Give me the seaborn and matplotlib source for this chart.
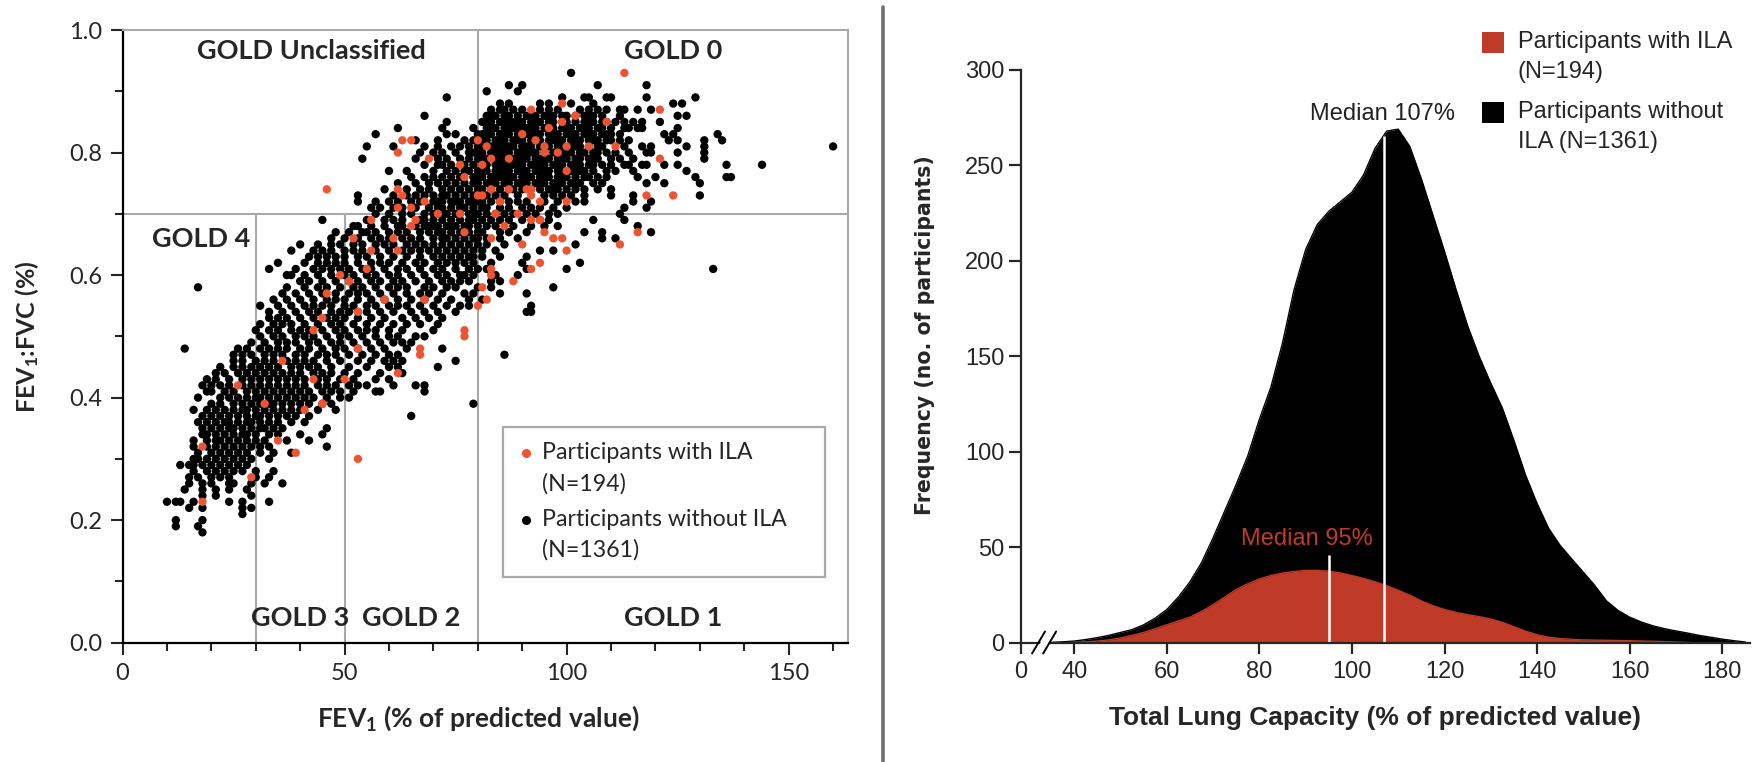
import numpy as np
import pandas as pd
import matplotlib
matplotlib.use("Agg")
import matplotlib.pyplot as plt
from matplotlib.patches import Rectangle, Polygon
from matplotlib.lines import Line2D
import seaborn as sns

# ---- left panel: FEV1 (% predicted) per FEV1:FVC row ----
no_ila_rows = {
    0.93: [101],
    0.91: [87, 90, 107, 118],
    0.90: [82, 89],
    0.89: [73, 99, 104, 105, 109, 110, 118, 129],
    0.88: [85, 87, 94, 96, 101, 106, 124, 126],
    0.87: [83, 85, 86, 88, 90, 94, 96, 98, 103, 105, 107, 109, 112, 113, 116, 119],
    0.86: [68, 82, 84, 86, 89, 91, 93, 95, 97, 100, 104, 106, 108, 112, 125, 127],
    0.85: [73, 81, 83, 85, 87, 88, 90, 92, 94, 96, 100, 104, 106, 108, 111, 113, 115, 117, 121],
    0.84: [62, 72, 79, 82, 84, 86, 88, 90, 91, 93, 95, 97, 99, 101, 103, 105, 107, 110, 113, 114, 116, 117, 125],
    0.83: [57, 73, 75, 80, 81, 83, 85, 87, 89, 91, 92, 94, 96, 98, 100, 102, 104, 106, 108, 110, 112, 122, 124, 134],
    0.82: [66, 71, 77, 79, 81, 84, 86, 88, 90, 92, 94, 96, 97, 99, 101, 103, 105, 107, 109, 112, 114, 123, 125, 131, 135],
    0.81: [55, 61, 68, 71, 74, 76, 78, 80, 83, 85, 86, 88, 90, 92, 94, 96, 98, 101, 103, 107, 108, 113, 117, 119, 127, 131, 160],
    0.80: [67, 70, 72, 75, 78, 79, 81, 84, 85, 87, 89, 91, 93, 97, 99, 101, 104, 106, 109, 111, 114, 118, 119, 125, 131],
    0.79: [54, 66, 71, 73, 76, 78, 80, 82, 84, 86, 88, 89, 91, 93, 94, 96, 98, 100, 102, 105, 107, 110, 112, 115, 131],
    0.78: [68, 71, 72, 74, 77, 79, 82, 84, 86, 87, 89, 90, 92, 94, 95, 97, 99, 101, 103, 106, 108, 110, 113, 114, 117, 118, 122, 125, 136, 144],
    0.77: [60, 64, 70, 73, 75, 77, 78, 80, 82, 84, 85, 87, 89, 91, 93, 95, 96, 98, 101, 103, 104, 106, 109, 111, 115, 127],
    0.76: [65, 68, 70, 72, 74, 76, 79, 81, 83, 85, 86, 88, 90, 92, 94, 96, 98, 100, 102, 105, 107, 109, 116, 120, 129, 136, 137],
    0.75: [62, 66, 69, 71, 73, 75, 77, 80, 82, 84, 87, 89, 91, 93, 95, 97, 99, 101, 103, 106, 108, 118, 122, 130],
    0.74: [59, 64, 67, 69, 72, 74, 76, 78, 81, 85, 88, 90, 94, 96, 98, 100, 102, 104, 107, 110],
    0.73: [53, 61, 64, 66, 68, 70, 72, 73, 75, 77, 79, 82, 84, 86, 89, 95, 97, 99, 101, 104, 110, 115, 130],
    0.72: [53, 57, 60, 62, 65, 67, 70, 71, 74, 76, 78, 80, 81, 83, 87, 89, 91, 95, 98, 102, 104, 115, 119],
    0.71: [56, 58, 61, 63, 66, 69, 71, 72, 74, 76, 77, 79, 81, 82, 85, 87, 90, 92, 94, 97, 100, 113, 118],
    0.70: [57, 60, 63, 65, 68, 70, 71, 73, 75, 78, 79, 80, 82, 86, 88, 91, 93, 96, 98, 112],
    0.69: [45, 55, 59, 61, 63, 67, 68, 70, 72, 74, 76, 78, 79, 81, 83, 85, 87, 90, 94, 96, 106, 113],
    0.68: [52, 53, 56, 59, 62, 63, 66, 68, 69, 71, 73, 75, 77, 80, 82, 84, 88, 92, 95, 98, 116],
    0.67: [48, 51, 54, 55, 57, 60, 62, 64, 67, 69, 71, 72, 74, 76, 78, 80, 81, 85, 87, 91, 104, 108, 119],
    0.66: [47, 50, 53, 56, 58, 60, 63, 65, 67, 70, 72, 73, 75, 77, 79, 80, 82, 85, 89, 108, 111],
    0.65: [40, 44, 47, 49, 52, 54, 57, 59, 61, 64, 66, 68, 70, 72, 74, 76, 78, 80, 82, 86, 102],
    0.64: [38, 43, 45, 47, 50, 52, 54, 57, 60, 63, 65, 67, 69, 71, 73, 75, 77, 79, 81, 84, 94, 97],
    0.63: [42, 44, 46, 48, 50, 53, 55, 58, 61, 64, 67, 70, 72, 74, 76, 78, 79, 81, 85, 91],
    0.62: [35, 41, 44, 46, 48, 50, 53, 56, 58, 60, 63, 66, 68, 71, 73, 75, 77, 79, 83, 90, 103],
    0.61: [33, 39, 43, 45, 47, 49, 51, 54, 56, 59, 62, 64, 67, 70, 72, 75, 78, 80, 82, 91, 100, 133],
    0.60: [37, 38, 41, 44, 47, 50, 52, 55, 57, 60, 62, 65, 68, 71, 73, 76, 77, 79, 84, 89],
    0.59: [40, 42, 45, 48, 51, 53, 56, 58, 61, 63, 66, 69, 72, 74, 76, 78, 83, 85],
    0.58: [17, 37, 41, 44, 46, 49, 52, 54, 57, 60, 62, 64, 68, 70, 73, 75, 80, 83, 97],
    0.57: [36, 39, 42, 45, 48, 51, 53, 55, 58, 61, 64, 67, 69, 72, 77, 79, 85, 91],
    0.56: [34, 37, 40, 43, 46, 48, 50, 53, 56, 59, 62, 65, 68, 71, 74, 78, 81],
    0.55: [31, 35, 38, 41, 43, 45, 47, 50, 52, 55, 57, 60, 62, 64, 67, 70, 73, 76, 78, 92],
    0.54: [33, 36, 39, 42, 44, 47, 49, 51, 53, 55, 58, 61, 65, 68, 71, 75, 91, 92],
    0.53: [33, 35, 37, 40, 43, 46, 48, 50, 53, 56, 59, 63, 66, 69, 72],
    0.52: [31, 34, 36, 38, 41, 44, 47, 49, 52, 55, 58, 61, 64, 67, 71],
    0.51: [30, 33, 35, 38, 40, 42, 45, 48, 50, 53, 55, 57, 60, 63, 70],
    0.50: [31, 34, 36, 39, 41, 43, 46, 49, 51, 54, 57, 60, 62, 66, 68],
    0.49: [29, 32, 35, 37, 39, 42, 44, 47, 49, 52, 55, 58, 61, 63, 65],
    0.48: [14, 26, 28, 31, 33, 35, 37, 40, 42, 45, 48, 50, 53, 56, 59, 64, 72],
    0.47: [25, 27, 29, 32, 34, 36, 39, 41, 44, 46, 48, 51, 54, 57, 60, 62, 86],
    0.46: [25, 27, 30, 32, 34, 37, 39, 41, 43, 46, 49, 53, 56, 59, 61, 63, 75],
    0.45: [22, 25, 27, 29, 31, 33, 35, 38, 40, 42, 44, 47, 51, 55, 60, 62, 71],
    0.44: [21, 23, 26, 28, 30, 32, 34, 36, 38, 40, 43, 45, 47, 50, 53, 58, 63],
    0.43: [19, 21, 24, 27, 29, 31, 33, 35, 37, 39, 41, 44, 46, 49, 52, 57, 60],
    0.42: [18, 20, 22, 24, 27, 29, 31, 33, 35, 37, 39, 41, 44, 46, 48, 51, 53, 55, 61, 66, 68],
    0.41: [19, 20, 23, 25, 28, 30, 32, 34, 36, 38, 40, 42, 45, 47, 49, 52, 57, 58, 68],
    0.40: [17, 22, 24, 26, 28, 30, 31, 33, 35, 37, 39, 41, 43, 46, 49, 51],
    0.39: [20, 22, 25, 27, 29, 31, 33, 34, 36, 38, 40, 42, 45, 47, 79],
    0.38: [16, 19, 21, 23, 25, 27, 28, 30, 32, 34, 36, 38, 40, 44, 48],
    0.37: [18, 20, 22, 24, 26, 28, 30, 31, 33, 35, 37, 39, 42, 65],
    0.36: [17, 19, 21, 23, 24, 26, 28, 29, 31, 33, 35, 38, 41],
    0.35: [18, 20, 22, 24, 25, 27, 29, 31, 32, 34, 36, 46],
    0.34: [18, 19, 21, 23, 25, 27, 28, 30, 33, 35, 40, 45],
    0.33: [16, 19, 21, 22, 24, 26, 28, 30, 32, 37, 42],
    0.32: [16, 19, 21, 23, 25, 27, 29, 31, 33, 46],
    0.31: [17, 20, 22, 24, 26, 28, 31, 34, 38],
    0.30: [16, 17, 19, 21, 23, 25, 27, 29, 33],
    0.29: [13, 15, 16, 18, 20, 22, 24, 26, 28],
    0.28: [16, 19, 21, 23, 25, 27, 30, 34],
    0.27: [15, 17, 20, 22, 24, 30, 33],
    0.26: [15, 18, 20, 24, 25, 29, 32, 36],
    0.25: [14, 18, 21, 24, 28],
    0.24: [18, 21, 29],
    0.23: [10, 12, 13, 16, 24, 27, 33],
    0.22: [15, 18, 27, 29],
    0.21: [27],
    0.20: [12, 18],
    0.19: [12, 17],
    0.18: [18],
}

# extra points inside the solid black core (GOLD 0 / GOLD 1 boundary)
no_ila_core_rows = {
    0.86: [83, 87, 92, 96, 99, 102, 105],
    0.85: [82, 86, 89, 93, 97, 99, 102, 105, 109],
    0.84: [83, 87, 89, 92, 96, 100, 104, 108],
    0.83: [82, 86, 90, 93, 97, 101, 105, 109],
    0.82: [82, 85, 89, 93, 98, 102, 106, 110],
    0.81: [81, 84, 87, 91, 95, 99, 102, 105],
    0.80: [80, 83, 86, 90, 92, 95, 100, 103, 107],
    0.79: [81, 85, 90, 95, 99, 103, 106],
    0.78: [81, 85, 88, 93, 98, 102, 105],
    0.77: [81, 86, 90, 94, 99, 102],
    0.76: [80, 84, 87, 91, 95, 99, 104],
    0.75: [79, 83, 86, 90, 94, 98, 102],
    0.74: [80, 83, 87, 92, 97],
    0.72: [72, 75, 79, 85],
    0.70: [72, 76, 84],
    0.68: [70, 74, 78],
}

ila_rows = {
    0.93: [113],
    0.88: [99],
    0.87: [92, 121],
    0.86: [102],
    0.85: [99, 109],
    0.84: [96],
    0.83: [90],
    0.82: [63, 65, 80, 93],
    0.81: [82, 95, 100, 105, 111],
    0.80: [62, 95, 98],
    0.79: [69, 83, 87, 121],
    0.78: [76, 81],
    0.77: [100],
    0.76: [77],
    0.74: [46, 62, 83, 87, 91, 92],
    0.73: [63, 80, 81, 92, 118, 124],
    0.72: [68, 85, 94, 100],
    0.71: [62, 65],
    0.70: [71, 76, 84, 89],
    0.69: [56, 66, 92, 94],
    0.68: [65, 86],
    0.67: [77, 95, 116],
    0.66: [52, 61, 83, 97, 99],
    0.65: [90, 112],
    0.64: [56, 62, 100],
    0.62: [94],
    0.61: [55, 83, 92],
    0.60: [49, 83],
    0.59: [51, 88],
    0.58: [81],
    0.57: [46],
    0.56: [59, 68, 82],
    0.55: [80],
    0.54: [53],
    0.53: [45],
    0.51: [43, 77],
    0.50: [77],
    0.48: [53, 67],
    0.47: [67],
    0.46: [36],
    0.44: [62],
    0.43: [43, 50],
    0.42: [26],
    0.39: [32, 45],
    0.38: [41],
    0.33: [35],
    0.32: [18],
    0.31: [39],
    0.30: [53],
    0.27: [29],
    0.23: [18],
}

# ---- right panel: density curves of total lung capacity (% predicted) ----
tlc_pct = [30, 32.5, 35, 37.5, 40, 42.5, 45, 47.5, 50, 52.5, 55, 57.5, 60, 62.5,
           65, 67.5, 70, 72.5, 75, 77.5, 80, 82.5, 85, 87.5, 90, 92.5, 95, 97.5,
           100, 102.5, 105, 107.5, 110, 112.5, 115, 117.5, 120, 122.5, 125, 127.5,
           130, 132.5, 135, 137.5, 140, 142.5, 145, 147.5, 150, 152.5, 155, 157.5,
           160, 162.5, 165, 167.5, 170, 172.5, 175, 177.5, 180, 182.5, 185]
freq_no_ila = [0, 0, 0.3, 0.6, 1.0, 1.8, 2.8, 4.0, 5.5, 7.0, 9.5, 13, 17.5, 24,
               32, 42, 55, 69, 83, 98, 117, 134, 157, 185, 206, 219, 226, 231,
               236, 245, 259, 268, 269, 260, 243, 224, 205, 185, 166, 150,
               136, 123, 106, 88, 73, 60, 51, 44, 37, 30, 22, 17,
               13.5, 11, 9, 7.5, 6.3, 5.2, 4.0, 3.0, 2.0, 1.2, 0.5]
freq_ila = [0, 0, 0, 0.1, 0.3, 0.6, 1.0, 1.6, 2.6, 4.0, 5.5, 7.4, 9.5, 11.5,
            13.5, 16.5, 20, 24, 28, 31, 33.5, 35.3, 36.6, 37.4, 38, 38, 37.6, 36.7,
            35.3, 33.8, 32, 30, 27.6, 25, 22, 19.5, 17.5, 16, 14.8, 13.8,
            12.5, 10.8, 8.5, 6.2, 4.3, 3.0, 2.3, 1.9, 1.6, 1.5, 1.4, 1.3,
            1.2, 1.0, 0.9, 0.7, 0.5, 0.3, 0, 0, 0, 0, 0]
median_no_ila = 107
median_ila = 95

RED_DOT = "#ef5430"
RED_FILL = "#bf3b28"
GRID_GRAY = "#a9a9a9"

sns.set_style("ticks")
plt.rcParams["font.family"] = ["Lato", "DejaVu Sans"]
plt.rcParams["mathtext.default"] = "regular"
NARROW = ["Liberation Sans", "DejaVu Sans"]


def rows_to_frame(rows, group):
    recs = [(fev, ratio) for ratio, fevs in rows.items() for fev in fevs]
    df = pd.DataFrame(recs, columns=["fev1", "ratio"])
    df["group"] = group
    return df


scatter_df = pd.concat([rows_to_frame(no_ila_rows, "without"),
                        rows_to_frame(no_ila_core_rows, "without"),
                        rows_to_frame(ila_rows, "with")], ignore_index=True)

fig = plt.figure(figsize=(17.53, 7.62), dpi=100)
ax1 = fig.add_axes([0.0699, 0.1566, 0.4137, 0.804])
ax2 = fig.add_axes([0.5824, 0.1562, 0.4159, 0.752])

# ================= left: scatter =================
for xs, ys in [([30, 30], [0, 0.7]), ([50, 50], [0, 0.7]),
               ([80, 80], [0, 1.0]), ([0, 163.3], [0.7, 0.7])]:
    ax1.plot(xs, ys, color=GRID_GRAY, lw=1.5, zorder=0.5)

sns.scatterplot(data=scatter_df, x="fev1", y="ratio", hue="group",
                palette={"without": "black", "with": RED_DOT},
                s=36, linewidth=0, legend=False, ax=ax1, zorder=2)

ax1.set_xlim(0, 163.3)
ax1.set_ylim(0, 1.0)
ax1.set_xticks([0, 50, 100, 150])
ax1.set_xticks(np.arange(10, 161, 10), minor=True)
ax1.set_yticks([0, 0.2, 0.4, 0.6, 0.8, 1.0])
ax1.set_yticklabels(["0.0", "0.2", "0.4", "0.6", "0.8", "1.0"])
ax1.set_yticks(np.arange(0.1, 1.0, 0.2), minor=True)
ax1.tick_params(which="major", length=8.5, width=1.5, labelsize=17, pad=6)
ax1.tick_params(which="minor", length=6, width=1.5)
for side in ["left", "bottom"]:
    ax1.spines[side].set_linewidth(1.6)
    ax1.spines[side].set_color("black")
for side in ["top", "right"]:
    ax1.spines[side].set_linewidth(1.5)
    ax1.spines[side].set_color(GRID_GRAY)

ax1.set_xlabel("FEV$_1$ (% of predicted value)", fontsize=19, fontweight="bold")
ax1.set_ylabel("FEV$_1$:FVC (%)", fontsize=18, fontweight="bold")
ax1.xaxis.label.set_va("center")
ax1.yaxis.label.set_va("center")
ax1.xaxis.set_label_coords(0.49, -0.123)
ax1.yaxis.set_label_coords(-0.132, 0.5)

gold_kw = dict(fontsize=19.5, fontweight="bold", ha="center", va="center")
ax1.text(42.6, 0.965, "GOLD Unclassified", **gold_kw)
ax1.text(124, 0.965, "GOLD 0", **gold_kw)
ax1.text(17.7, 0.659, "GOLD 4", **gold_kw)
ax1.text(40, 0.04, "GOLD 3", **gold_kw)
ax1.text(65.1, 0.04, "GOLD 2", **gold_kw)
ax1.text(124, 0.04, "GOLD 1", **gold_kw)

# legend box of the scatter
fig.patches.append(Rectangle((0.2871, 0.2432), 0.1835, 0.1969, transform=fig.transFigure,
                             facecolor="white", edgecolor=GRID_GRAY, lw=1.6, zorder=3))
leg_kw = dict(fontsize=16.7, ha="left", va="center", zorder=4)
fig.lines.append(Line2D([0.3001], [0.4059], marker="o", ms=5.5, color=RED_DOT,
                        lw=0, transform=fig.transFigure, zorder=4))
fig.lines.append(Line2D([0.3001], [0.3176], marker="o", ms=5.5, color="black",
                        lw=0, transform=fig.transFigure, zorder=4))
fig.text(0.3090, 0.4059, "Participants with ILA", **leg_kw)
fig.text(0.3090, 0.3657, "(N=194)", **leg_kw)
fig.text(0.3090, 0.3176, "Participants without ILA", **leg_kw)
fig.text(0.3090, 0.2782, "(N=1361)", **leg_kw)

# divider between panels
fig.lines.append(Line2D([0.5035, 0.5035], [0.0, 0.991], color="#707070", lw=2.6,
                        transform=fig.transFigure))

# ================= right: density =================
ax2.fill_between(tlc_pct, freq_no_ila, color="black", lw=0, zorder=1)
sns.lineplot(x=tlc_pct, y=freq_no_ila, color="black", lw=1, ax=ax2, zorder=1)
ax2.fill_between(tlc_pct, freq_ila, color=RED_FILL, lw=0, zorder=1.5)
sns.lineplot(x=tlc_pct, y=freq_ila, color=RED_FILL, lw=1, ax=ax2, zorder=1.5)

top_no_ila = np.interp(median_no_ila, tlc_pct, freq_no_ila)
ax2.vlines(median_no_ila, 0, top_no_ila - 1, color="white", lw=1.8, zorder=2)
ax2.vlines(median_ila, 0, 46, color="white", lw=1.8, zorder=2)

ax2.text(106.7, 277, "Median 107%", fontsize=17, family=NARROW, ha="center",
         va="center", color="#222222")
ax2.text(90.3, 54.5, "Median 95%", fontsize=17, family=NARROW, ha="center",
         va="center", color=RED_FILL)

ax2.set_xlim(28.5, 186)
ax2.set_ylim(0, 300)
ax2.set_xticks([28.5, 40, 60, 80, 100, 120, 140, 160, 180])
ax2.set_xticklabels(["0", "40", "60", "80", "100", "120", "140", "160", "180"])
ax2.set_yticks([0, 50, 100, 150, 200, 250, 300])
ax2.tick_params(axis="x", length=8, width=1.6, labelsize=17, pad=5)
ax2.tick_params(axis="y", length=9, width=1.6, labelsize=17, pad=3)
for lab in ax2.get_xticklabels() + ax2.get_yticklabels():
    lab.set_family(NARROW)
sns.despine(ax=ax2)
for side in ["left", "bottom"]:
    ax2.spines[side].set_linewidth(1.6)
    ax2.spines[side].set_zorder(3)

# axis break marks between 0 and 40
ax2.add_patch(Polygon([(31.4, -5), (33.2, -5), (35.9, 5.5), (34.1, 5.5)],
                      closed=True, facecolor="white", edgecolor="none",
                      clip_on=False, zorder=4))
for x0 in (30.9, 33.3):
    ax2.plot([x0, x0 + 2.8], [-5.5, 6], color="black", lw=1.4, clip_on=False, zorder=5)

ax2.set_xlabel("Total Lung Capacity (% of predicted value)", fontsize=19,
               fontweight="bold", family=NARROW)
ax2.set_ylabel("Frequency (no. of participants)", fontsize=14.8,
               fontweight="bold", family=["DejaVu Sans"])
ax2.xaxis.label.set_va("center")
ax2.yaxis.label.set_va("center")
ax2.xaxis.set_label_coords(0.485, -0.1314)
ax2.yaxis.set_label_coords(-0.131, 0.5375)

# legend of the density panel
fig.patches.append(Rectangle((0.8454, 0.930), 0.0123, 0.0283, transform=fig.transFigure,
                             facecolor=RED_FILL, edgecolor="none"))
fig.patches.append(Rectangle((0.8454, 0.838), 0.0123, 0.0283, transform=fig.transFigure,
                             facecolor="black", edgecolor="none"))
rleg_kw = dict(fontsize=17, family=NARROW, ha="left", va="center")
fig.text(0.8657, 0.9453, "Participants with ILA", **rleg_kw)
fig.text(0.8657, 0.9059, "(N=194)", **rleg_kw)
fig.text(0.8657, 0.8534, "Participants without", **rleg_kw)
fig.text(0.8657, 0.8140, "ILA (N=1361)", **rleg_kw)

fig.savefig("out.png", dpi=100, facecolor="white")
